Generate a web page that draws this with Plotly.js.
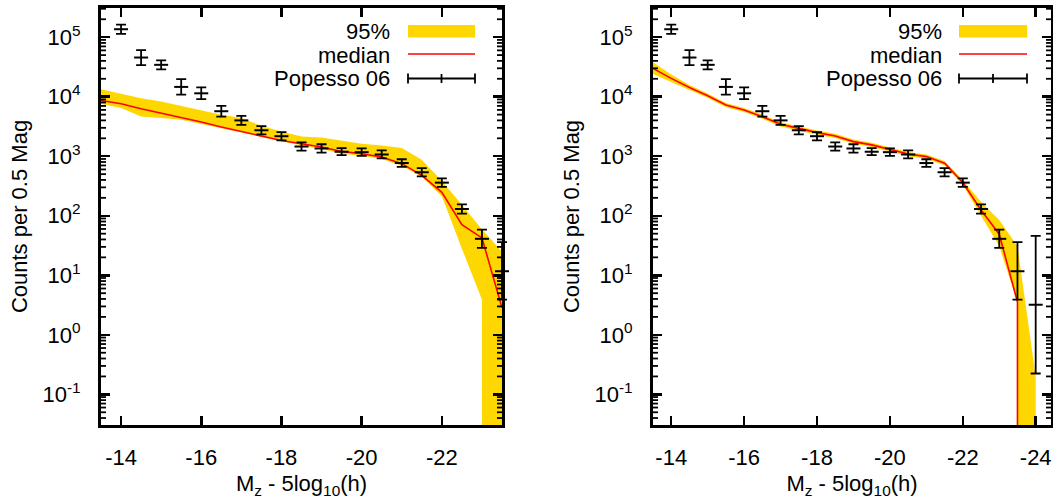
<!DOCTYPE html>
<html>
<head>
<meta charset="utf-8">
<script src="https://cdn.plot.ly/plotly-3.0.1.min.js"></script>
<style>html,body{margin:0;padding:0;background:#fff;}#chart{width:1053px;height:499px;}</style>
</head>
<body>
<div id="chart"></div>
<script>
// ---------------- data ----------------
// Popesso 06 luminosity function (same in both panels)
const popX    = [-14, -14.5, -15, -15.5, -16, -16.5, -17, -17.5, -18, -18.5, -19, -19.5, -20, -20.5, -21, -21.5, -22, -22.5, -23, -23.5, -24];
const popY    = [136000, 45500, 34300, 14600, 11400, 5700, 4000, 2730, 2170, 1455, 1350, 1190, 1170, 1070, 768, 538, 360, 130, 41, 11.7, 3.2];
const popHigh = [163000, 60800, 40800, 19700, 14300, 7010, 4760, 3210, 2550, 1710, 1590, 1370, 1360, 1250, 890, 632, 423, 155, 58.5, 36, 46];
const popLow  = [113600, 34000, 28800, 10800, 9100, 4630, 3360, 2320, 1850, 1240, 1150, 1040, 1010, 917, 663, 458, 306, 109, 28.8, 3.9, 0.224];

// Left panel model: median and 95% band
const leftX     = [-13.5, -14, -14.5, -15, -15.5, -16, -16.5, -17, -17.5, -18, -18.5, -19, -19.5, -20, -20.5, -21, -21.5, -22, -22.5, -23, -23.5];
const leftMed   = [8630, 7600, 6270, 5310, 4550, 3750, 3090, 2610, 2150, 1840, 1620, 1430, 1205, 1100, 970, 750, 476, 247, 71, 42.5, 2.84];
const leftUpper = [13400, 11200, 9460, 8320, 7030, 5860, 4970, 4370, 3250, 2610, 2150, 2070, 1840, 1620, 1520, 1370, 870, 385, 153, 59, 25];
const leftLower = [7590, 6460, 4660, 4370, 4090, 3510, 2970, 2510, 2100, 1770, 1520, 1320, 1100, 1020, 900, 690, 450, 212, 28, 3.9, 0];

// Right panel model: median and 95% band
const rightX     = [-13.5, -14, -14.5, -15, -15.5, -16, -16.5, -17, -17.5, -18, -18.5, -19, -19.5, -20, -20.5, -21, -21.5, -22, -22.5, -23, -23.5, -24];
const rightMed   = [29900, 20300, 14300, 10400, 7240, 5980, 4620, 3440, 2940, 2490, 2190, 1760, 1550, 1310, 1090, 986, 764, 362, 125, 49, 3.55, 0];
const rightUpper = [38000, 23500, 15700, 11300, 7850, 6480, 5010, 3730, 3190, 2700, 2380, 1910, 1680, 1420, 1180, 1070, 830, 400, 170, 85, 30.7, 0.2];
const rightLower = [24000, 17500, 13000, 9600, 6680, 5510, 4260, 3170, 2710, 2300, 2020, 1620, 1430, 1210, 1000, 910, 705, 330, 100, 30.7, 3.5, 0];

// tick labels
const xTicksLeft  = [-14, -16, -18, -20, -22];
const xTicksRight = [-14, -16, -18, -20, -22, -24];
const yTickVals   = [0.1, 1, 10, 100, 1000, 10000, 100000];
const yTickText   = ['10<sup>-1</sup>', '10<sup>0</sup>', '10<sup>1</sup>', '10<sup>2</sup>', '10<sup>3</sup>', '10<sup>4</sup>', '10<sup>5</sup>'];

const legendNames = ['95%', 'median', 'Popesso 06'];

// ---------------- helpers ----------------
const FLOOR = 1e-4; // stands for zero on the log axis (below the visible range)
// zero values on a log axis: drop vertically at the last valid x (as the original plotting program did)
function logPath(xs, ys) {
  const px = [], py = [];
  for (let i = 0; i < xs.length; i++) {
    if (ys[i] > 0) {
      if (i > 0 && !(ys[i - 1] > 0)) { px.push(xs[i]); py.push(FLOOR); }
      px.push(xs[i]); py.push(ys[i]);
    } else {
      if (i > 0 && ys[i - 1] > 0) { px.push(xs[i - 1]); py.push(FLOOR); }
      px.push(xs[i]); py.push(FLOOR);
    }
  }
  return {x: px, y: py};
}
function bandTrace(xs, up, lo, xa, ya) {
  const u = logPath(xs, up), l = logPath(xs, lo);
  return {
    x: u.x.concat(l.x.slice().reverse()),
    y: u.y.concat(l.y.slice().reverse()),
    mode: 'lines', fill: 'toself', fillcolor: '#FFD700',
    line: {width: 0, color: '#FFD700'}, hoverinfo: 'skip',
    xaxis: xa, yaxis: ya, showlegend: false, name: legendNames[0]
  };
}
function medTrace(xs, ys, xa, ya) {
  const p = logPath(xs, ys);
  return {x: p.x, y: p.y, mode: 'lines', line: {color: '#FF0000', width: 1.6},
          xaxis: xa, yaxis: ya, showlegend: false, name: legendNames[1]};
}
function popTrace(n, xa, ya) {
  const xs = popX.slice(0, n), ys = popY.slice(0, n);
  return {
    x: xs, y: ys, mode: 'markers', xaxis: xa, yaxis: ya, showlegend: false, name: legendNames[2],
    cliponaxis: false,
    marker: {symbol: 'line-ew-open', size: 10, color: '#000', line: {color: '#000', width: 2}},
    error_y: {type: 'data', symmetric: false,
      array: popHigh.slice(0, n).map((h, i) => h - ys[i]),
      arrayminus: popLow.slice(0, n).map((l, i) => ys[i] - l),
      color: '#000', thickness: 1.8, width: 5}
  };
}

const data = [
  bandTrace(leftX, leftUpper, leftLower, 'x', 'y'),
  medTrace(leftX, leftMed, 'x', 'y'),
  popTrace(20, 'x3', 'y3'),
  bandTrace(rightX, rightUpper, rightLower, 'x2', 'y2'),
  medTrace(rightX, rightMed, 'x2', 'y2'),
  popTrace(21, 'x2', 'y2')
];

// ---------------- layout ----------------
const W = 1053, H = 499;
const fx = v => v / W, fy = v => 1 - v / H;
const FONT = 'Liberation Sans, Arial, sans-serif';
const FS = 22;
const Y_RANGE = [-1.515, 5.49];
const Y_DOM = [425, 8];
const LEFT_DOM = [101, 502], RIGHT_DOM = [653, 1051];

function xAxis(dom, range, ticks, anchor) {
  return {
    domain: [fx(dom[0]), fx(dom[1])], range: range, anchor: anchor,
    tickmode: 'array', tickvals: ticks, ticktext: ticks.map(String),
    ticks: 'inside', ticklen: 9, tickwidth: 2.5, tickcolor: '#000',
    showline: true, linewidth: 3, linecolor: '#000', mirror: 'allticks',
    showgrid: false, zeroline: false, ticklabelstandoff: 11,
    tickfont: {family: FONT, size: FS, color: '#000'},
    title: {text: 'M<sub>z</sub> - 5log<sub>10</sub>(h)', font: {family: FONT, size: FS, color: '#000'}, standoff: 9}
  };
}
function yAxis(anchor) {
  return {
    type: 'log', domain: [fy(Y_DOM[0]), fy(Y_DOM[1])], range: Y_RANGE, anchor: anchor,
    tickmode: 'array', tickvals: yTickVals, ticktext: yTickText,
    ticks: 'inside', ticklen: 9, tickwidth: 2.5, tickcolor: '#000',
    showline: true, linewidth: 3, linecolor: '#000', mirror: 'allticks',
    showgrid: false, zeroline: false, ticklabelstandoff: 13,
    tickfont: {family: FONT, size: FS, color: '#000'},
    title: {text: 'Counts per 0.5 Mag', font: {family: FONT, size: FS, color: '#000'}, standoff: 9}
  };
}

// minor log ticks (2..9 of every decade) on both sides of each panel, drawn inward
function minorTicks(dom) {
  const out = [];
  const yb = fy(Y_DOM[0]), yt = fy(Y_DOM[1]);
  for (let e = -2; e <= 5; e++) for (let m = 2; m <= 9; m++) {
    const lv = Math.log10(m * Math.pow(10, e));
    if (lv <= Y_RANGE[0] || lv >= Y_RANGE[1]) continue;
    const yp = yb + (lv - Y_RANGE[0]) / (Y_RANGE[1] - Y_RANGE[0]) * (yt - yb);
    [[dom[0], dom[0] + 5], [dom[1] - 5, dom[1]]].forEach(([a, b]) => out.push({
      type: 'line', xref: 'paper', yref: 'paper',
      x0: fx(a), x1: fx(b), y0: yp, y1: yp, line: {color: '#000', width: 1.8}, layer: 'above'
    }));
  }
  return out;
}

function legend(textRight, sx0, sx1) {
  const ann = [], shp = [];
  const ys = [32, 55, 78.5];
  legendNames.forEach((t, i) => ann.push({
    xref: 'paper', yref: 'paper', x: fx(textRight), y: fy(ys[i]), xanchor: 'right', yanchor: 'middle',
    text: t, showarrow: false, font: {family: FONT, size: FS, color: '#000'}
  }));
  const P = (x0, y0, x1, y1, o) => Object.assign({xref: 'paper', yref: 'paper', x0: fx(x0), x1: fx(x1), y0: fy(y0), y1: fy(y1)}, o);
  shp.push(P(sx0, 25, sx1, 37.5, {type: 'rect', fillcolor: '#FFD700', line: {width: 0}}));
  shp.push(P(sx0, 54, sx1, 54, {type: 'line', line: {color: '#FF0000', width: 1.6}}));
  shp.push(P(sx0, 78.5, sx1, 78.5, {type: 'line', line: {color: '#000', width: 1.8}}));
  shp.push(P(sx0, 73.5, sx0, 83.5, {type: 'line', line: {color: '#000', width: 1.8}}));
  shp.push(P(sx1, 73.5, sx1, 83.5, {type: 'line', line: {color: '#000', width: 1.8}}));
  const cx = (sx0 + sx1) / 2;
  shp.push(P(cx, 74, cx, 83, {type: 'line', line: {color: '#000', width: 1.8}}));
  return {ann, shp};
}
const lg1 = legend(392, 408, 475);
const lg2 = legend(943.5, 959, 1027);

// hidden, slightly wider twin of the left panel (same scale) so the edge error bar is not cut
const LEFT_RANGE = [-13.5, -23.5], EXTRA = 12;
const pxPerUnit = (LEFT_DOM[1] - LEFT_DOM[0]) / (LEFT_RANGE[0] - LEFT_RANGE[1]);

const layout = {
  width: W, height: H, margin: {l: 0, r: 0, t: 0, b: 0},
  paper_bgcolor: '#fff', plot_bgcolor: 'rgba(0,0,0,0)', showlegend: false,
  font: {family: FONT, size: FS, color: '#000'},
  xaxis: xAxis(LEFT_DOM, LEFT_RANGE, xTicksLeft, 'y'),
  yaxis: yAxis('x'),
  xaxis2: xAxis(RIGHT_DOM, [-13.5, -24.42], xTicksRight, 'y2'),
  yaxis2: yAxis('x2'),
  xaxis3: {domain: [fx(LEFT_DOM[0]), fx(LEFT_DOM[1] + EXTRA)], range: [LEFT_RANGE[0], LEFT_RANGE[1] - EXTRA / pxPerUnit],
           anchor: 'y3', visible: false, showgrid: false, zeroline: false},
  yaxis3: {type: 'log', domain: [fy(Y_DOM[0]), fy(Y_DOM[1])], range: Y_RANGE, anchor: 'x3',
           visible: false, showgrid: false, zeroline: false},
  annotations: lg1.ann.concat(lg2.ann),
  shapes: lg1.shp.concat(lg2.shp, minorTicks(LEFT_DOM), minorTicks(RIGHT_DOM))
};

Plotly.newPlot('chart', data, layout, {staticPlot: true, displayModeBar: false});
</script>
</body>
</html>
